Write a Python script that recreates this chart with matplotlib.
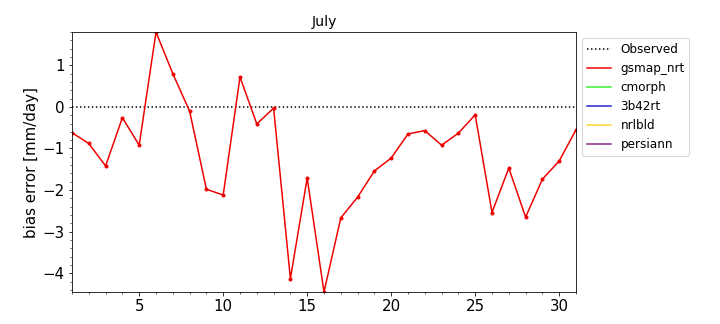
import matplotlib
matplotlib.use('Agg')
import matplotlib.pyplot as plt
import numpy as np
from matplotlib.ticker import AutoMinorLocator

days = np.arange(1, 32)
observed = np.zeros(31)
gsmap_nrt = [-0.62, -0.88, -1.42, -0.26, -0.92, 1.80, 0.80, -0.10, -1.98, -2.12,
             0.72, -0.41, -0.03, -4.13, -1.71, -4.45, -2.67, -2.17, -1.54, -1.23,
             -0.65, -0.57, -0.92, -0.63, -0.19, -2.54, -1.47, -2.65, -1.74, -1.30,
             -0.55]
# other products have no data for this month
empty = np.full(31, np.nan)

fig = plt.figure(figsize=(10, 4.5), dpi=72)
ax = fig.add_axes([0.1, 0.099, 0.7, 0.802])

ax.plot(days, observed, ':', color='black', lw=1.5, label='Observed')
ax.plot(days, gsmap_nrt, '-', color='#ee0000', lw=1.5, label='gsmap_nrt')
ax.plot(days, gsmap_nrt, 'o', color='#ee0000', ms=3)
ax.plot(days, empty, color='#33ee33', lw=1.5, label='cmorph')
ax.plot(days, empty, color='#2222cc', lw=1.5, label='3b42rt')
ax.plot(days, empty, color='#ffd633', lw=1.5, label='nrlbld')
ax.plot(days, empty, color='#882288', lw=1.5, label='persiann')

ax.set_xlim(1, 31)
ax.set_ylim(min(gsmap_nrt), max(gsmap_nrt))
ax.set_xticks([5, 10, 15, 20, 25, 30])
ax.xaxis.set_minor_locator(AutoMinorLocator(5))
ax.yaxis.set_minor_locator(AutoMinorLocator(5))
ax.tick_params(labelsize=15)
ax.set_ylabel('bias error [mm/day]', fontsize=15)
ax.set_title('July', fontsize=14)
ax.legend(loc='upper left', bbox_to_anchor=(1.0, 1.0), fontsize=12)

fig.savefig('out.png', dpi=72)
